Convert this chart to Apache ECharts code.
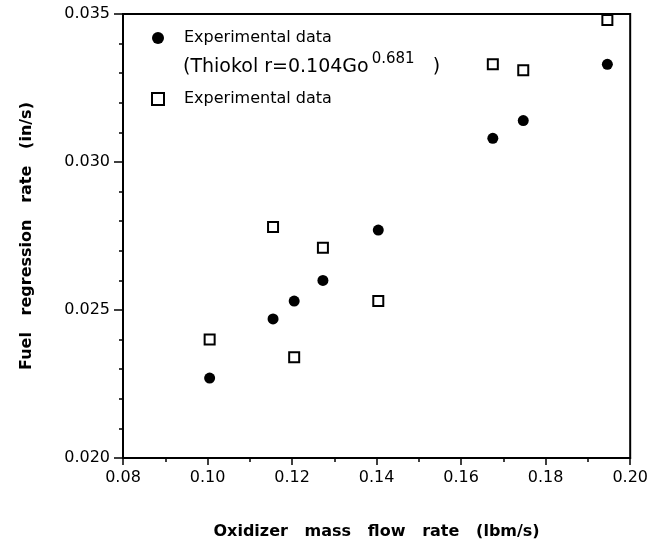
<!DOCTYPE html>
<html>
<head>
<meta charset="utf-8">
<script src="https://cdn.jsdelivr.net/npm/echarts@6/dist/echarts.min.js"></script>
<style>
html,body{margin:0;padding:0;background:#fff;}
#chart{width:651px;height:547px;}
</style>
</head>
<body>
<div id="chart"></div>
<script>
// Oxidizer mass flow rate (lbm/s)
const flowRates = [0.1005, 0.1155, 0.1205, 0.1273, 0.1404, 0.1675, 0.1747, 0.1946];
// Fuel regression rate (in/s) - filled circles (Thiokol correlation)
const thiokolRates = [0.0227, 0.0247, 0.0253, 0.0260, 0.0277, 0.0308, 0.0314, 0.0333];
// Fuel regression rate (in/s) - open squares
const experimentalRates = [0.0240, 0.0278, 0.0234, 0.0271, 0.0253, 0.0333, 0.0331, 0.0348];

const xTicks = [0.08, 0.10, 0.12, 0.14, 0.16, 0.18, 0.20];
const yTicks = [0.020, 0.025, 0.030, 0.035];

const seriesNames = ['Thiokol', 'Experimental'];
const legendTexts = { 'Thiokol': 'Experimental data', 'Experimental': 'Experimental data' };
const correlationText = '(Thiokol r=0.104Go';
const correlationExp = '0.681';

const FONT = 'DejaVu Sans';
const chart = echarts.init(document.getElementById('chart'), null, { renderer: 'canvas' });

const pairs = (xs, ys) => xs.map((x, i) => [x, ys[i]]);
const squarePath = 'path://M0,0L10,0L10,10L0,10Z';

chart.setOption({
  animation: false,
  backgroundColor: '#fff',
  grid: { left: 123, right: 18, top: 14, bottom: 89, show: true, borderColor: '#000', borderWidth: 2, backgroundColor: 'transparent' },
  xAxis: {
    type: 'value',
    min: xTicks[0], max: xTicks[xTicks.length - 1], interval: 0.02,
    name: 'Oxidizer   mass   flow   rate   (lbm/s)',
    nameLocation: 'middle', nameGap: 66,
    nameTextStyle: { fontFamily: FONT, fontSize: 16, fontWeight: 'bold', color: '#000' },
    axisLine: { show: true, onZero: false, lineStyle: { color: '#000', width: 2 } },
    axisTick: { show: true, inside: false, length: 7, lineStyle: { color: '#000', width: 1.5 } },
    minorTick: { show: true, splitNumber: 2, length: 4, lineStyle: { color: '#000', width: 1.5 } },
    splitLine: { show: false },
    axisLabel: { fontFamily: FONT, fontSize: 16, color: '#000', margin: 12,
      formatter: v => v.toFixed(2) }
  },
  yAxis: {
    type: 'value',
    min: yTicks[0], max: yTicks[yTicks.length - 1], interval: 0.005,
    name: 'Fuel   regression   rate   (in/s)',
    nameLocation: 'middle', nameGap: 88,
    nameTextStyle: { fontFamily: FONT, fontSize: 16, fontWeight: 'bold', color: '#000' },
    axisLine: { show: true, onZero: false, lineStyle: { color: '#000', width: 2 } },
    axisTick: { show: true, inside: false, length: 9, lineStyle: { color: '#000', width: 1.5 } },
    minorTick: { show: true, splitNumber: 5, length: 4, lineStyle: { color: '#000', width: 1.5 } },
    splitLine: { show: false },
    axisLabel: { fontFamily: FONT, fontSize: 16, color: '#000', margin: 13,
      formatter: v => v.toFixed(3) }
  },
  legend: {
    orient: 'vertical',
    left: 146, top: 23,
    itemWidth: 42, itemHeight: 12, itemGap: 41,
    selectedMode: false,
    data: [
      { name: seriesNames[0], icon: 'circle' },
      { name: seriesNames[1], icon: squarePath }
    ],
    formatter: n => legendTexts[n],
    textStyle: { fontFamily: FONT, fontSize: 16, color: '#000', lineHeight: 20 }
  },
  graphic: [{
    type: 'text', left: 183, top: 52,
    style: {
      text: '{a|' + correlationText + '}{s|' + correlationExp + '}{a|   )}',
      rich: {
        a: { fontFamily: FONT, fontSize: 19, fill: '#000', verticalAlign: 'bottom' },
        s: { fontFamily: FONT, fontSize: 15, fill: '#000', verticalAlign: 'top', padding: [0, 0, 10, 3] }
      }
    }
  }],
  series: [
    {
      name: seriesNames[0], type: 'scatter',
      data: pairs(flowRates, thiokolRates),
      symbol: 'circle', symbolSize: 11,
      itemStyle: { color: '#000', opacity: 1 }
    },
    {
      name: seriesNames[1], type: 'scatter',
      data: pairs(flowRates, experimentalRates),
      symbol: squarePath, symbolSize: 10, symbolKeepAspect: true,
      itemStyle: { color: '#fff', borderColor: '#000', borderWidth: 2, opacity: 1 }
    }
  ]
});
</script>
</body>
</html>
